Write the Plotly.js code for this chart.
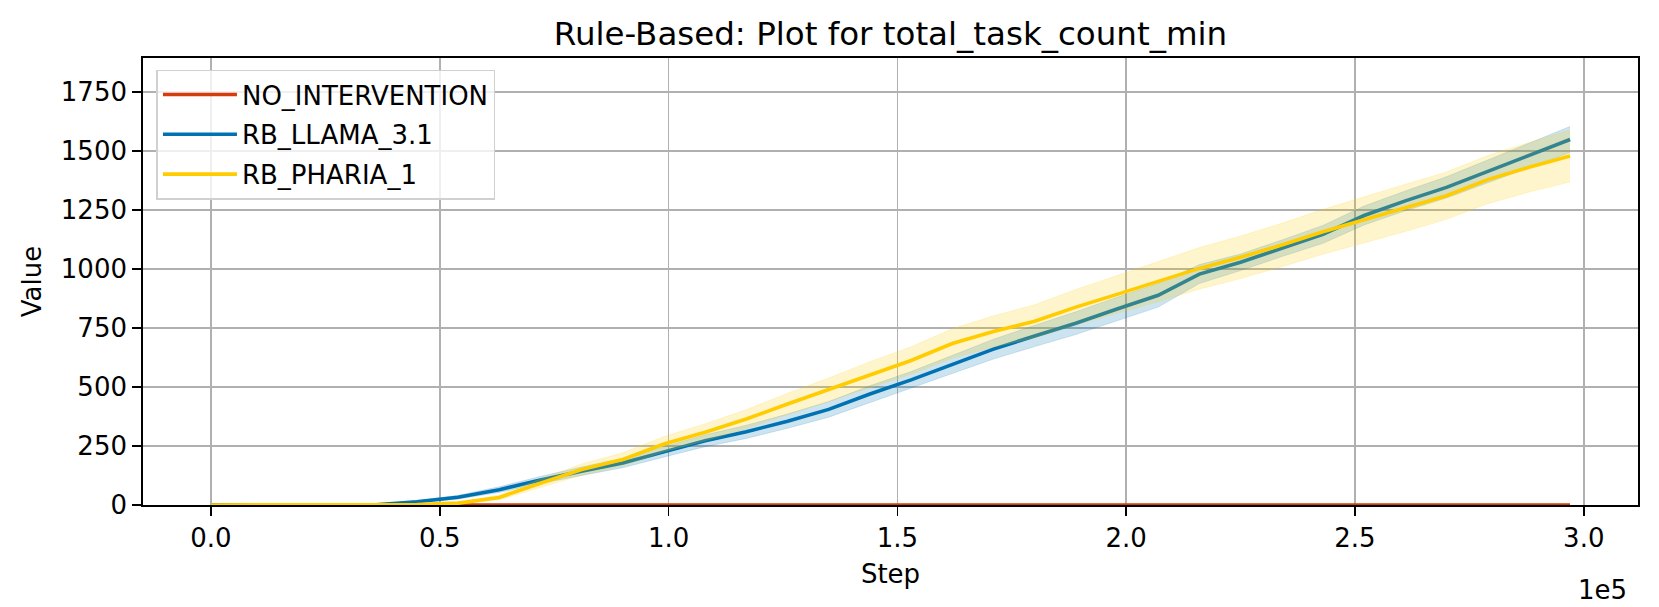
<!DOCTYPE html>
<html>
<head>
<meta charset="utf-8">
<script src="https://cdn.plot.ly/plotly-3.0.1.min.js"></script>
<style>
  html, body { margin: 0; padding: 0; background: #fff; }
  #plot { width: 1659px; height: 607px; }
</style>
</head>
<body>
<div id="plot"></div>
<script>
// training steps
const steps = [0, 9000, 18000, 27000, 36000, 45000, 54000, 63000, 72000, 81000,
  90000, 99000, 108000, 117000, 126000, 135000, 144000, 153000, 162000, 171000,
  180000, 189000, 198000, 207000, 216000, 225000, 234000, 243000, 252000, 261000,
  270000, 279000, 288000, 297000];

const noIntervention = [0, 0, 0, 0, 0, 0, 0, 0, 0, 0, 0, 0, 0, 0, 0, 0, 0, 0, 0, 0,
  0, 0, 0, 0, 0, 0, 0, 0, 0, 0, 0, 0, 0, 0];

const llamaMean = [0, 0, 0, 0, 1, 14, 33, 65, 106, 143,
  178, 225, 272, 310, 355, 405, 470, 530, 595, 660,
  716, 770, 830, 888, 978, 1028, 1087, 1146, 1226, 1288,
  1345, 1413, 1480, 1548];
const llamaStd = [0, 0, 0, 0, 1, 5, 8, 12, 15, 18,
  20, 22, 25, 28, 30, 33, 35, 35, 38, 42,
  45, 48, 50, 50, 40, 35, 35, 38, 40, 42,
  45, 48, 52, 55];

const phariaMean = [0, 0, 0, 0, 0, 2, 8, 32, 92, 150,
  193, 258, 308, 364, 428, 488, 552, 612, 684, 735,
  778, 838, 892, 946, 1002, 1049, 1101, 1157, 1208, 1258,
  1310, 1378, 1430, 1478];
const phariaStd = [0, 0, 0, 0, 0, 1, 4, 10, 18, 24,
  28, 32, 36, 40, 45, 50, 55, 58, 62, 66,
  70, 75, 80, 85, 88, 90, 92, 95, 98, 100,
  100, 102, 105, 110];

const xTickVals = [0, 50000, 100000, 150000, 200000, 250000, 300000];
const xTickText = ['0.0', '0.5', '1.0', '1.5', '2.0', '2.5', '3.0'];
const yTickVals = [0, 250, 500, 750, 1000, 1250, 1500, 1750];

const series = [
  {name: 'NO_INTERVENTION', mean: noIntervention, std: null, color: '#d43d0b', band: null},
  {name: 'RB_LLAMA_3.1', mean: llamaMean, std: llamaStd, color: '#0072b2', band: 'rgba(0,114,178,0.2)'},
  {name: 'RB_PHARIA_1', mean: phariaMean, std: phariaStd, color: '#ffcc00', band: 'rgba(255,204,0,0.2)'}
];

const data = [];
series.forEach((s, i) => {
  if (s.std) {
    data.push({
      x: steps, y: s.mean.map((v, k) => v + s.std[k]),
      type: 'scatter', mode: 'lines', line: {width: 0.8, color: s.band},
      showlegend: false, hoverinfo: 'skip'
    });
    data.push({
      x: steps, y: s.mean.map((v, k) => v - s.std[k]),
      type: 'scatter', mode: 'lines', line: {width: 0.8, color: s.band},
      fill: 'tonexty', fillcolor: s.band,
      showlegend: false, hoverinfo: 'skip'
    });
  }
  data.push({
    x: steps, y: s.mean, name: s.name, legendgroup: 'g' + i,
    type: 'scatter', mode: 'lines', line: {width: 3.6, color: s.color}
  });
});

const font = {family: 'DejaVu Sans, sans-serif', size: 26, color: '#000'};

const layout = {
  width: 1659,
  height: 607,
  paper_bgcolor: '#fff',
  plot_bgcolor: '#fff',
  font: font,
  margin: {l: 143, r: 21, t: 58, b: 102},
  title: {
    text: 'Rule-Based: Plot for total_task_count_min',
    font: {family: 'DejaVu Sans, sans-serif', size: 32.5, color: '#000'},
    x: 0.5, xref: 'paper', y: 0.944, yanchor: 'middle'
  },
  xaxis: {
    range: [-14850, 311850],
    tickvals: xTickVals, ticktext: xTickText,
    ticks: 'outside', ticklen: 9, tickwidth: 1.6, tickcolor: '#000',
    showline: true, linecolor: '#000', linewidth: 1.8, mirror: true,
    showgrid: true, gridcolor: '#b0b0b0', gridwidth: 1.6,
    zeroline: false,
    title: {text: 'Step', font: font, standoff: 13}
  },
  yaxis: {
    range: [0, 1893],
    tickvals: yTickVals,
    ticks: 'outside', ticklen: 9, tickwidth: 1.6, tickcolor: '#000',
    showline: true, linecolor: '#000', linewidth: 1.8, mirror: true,
    showgrid: true, gridcolor: '#b0b0b0', gridwidth: 1.6,
    zeroline: false,
    title: {text: 'Value', font: font, standoff: 12}
  },
  legend: {
    x: 0.009, y: 0.974, xanchor: 'left', yanchor: 'top',
    bgcolor: 'rgba(255,255,255,0.8)', bordercolor: '#d0d0d0', borderwidth: 1.5,
    font: font, tracegroupgap: 3, itemwidth: 74
  },
  annotations: [{
    text: '1e5', xref: 'paper', yref: 'paper', x: 1, y: 0,
    xanchor: 'right', yanchor: 'middle', yshift: -85, xshift: -9,
    showarrow: false, font: font
  }],
  showlegend: true
};

Plotly.newPlot('plot', data, layout, {displayModeBar: false, staticPlot: true});
</script>
</body>
</html>
